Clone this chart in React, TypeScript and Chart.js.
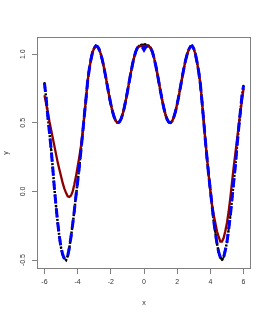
import { useEffect, useRef } from "react";
import { Chart, registerables } from "chart.js";

Chart.register(...registerables);

// x grid of the sampled points (-6 .. 6, step 0.1)
const xValues: number[] = Array.from({ length: 121 }, (_, i) => Math.round((-6 + i * 0.1) * 10) / 10);

// observed data (black points)
const observedY: number[] = [
  0.79, 0.68, 0.55, 0.43, 0.31, 0.17, 0.02, -0.11, -0.23, -0.33,
  -0.41, -0.46, -0.49, -0.5, -0.47, -0.41, -0.33, -0.24, -0.14, -0.03,
  0.07, 0.18, 0.3, 0.42, 0.55, 0.67, 0.8, 0.89, 0.96, 1.015,
  1.045, 1.06, 1.055, 1.034, 0.999, 0.952, 0.894, 0.83, 0.763, 0.697,
  0.636, 0.583, 0.542, 0.513, 0.501, 0.504, 0.523, 0.557, 0.605, 0.662,
  0.726, 0.793, 0.86, 0.922, 0.976, 1.018, 1.046, 1.06, 1.065, 1.07,
  1.07,
  1.07, 1.065, 1.06, 1.046, 1.018, 0.976, 0.922, 0.86, 0.793, 0.726,
  0.662, 0.605, 0.557, 0.523, 0.504, 0.501, 0.513, 0.542, 0.583, 0.636,
  0.697, 0.763, 0.83, 0.894, 0.952, 0.999, 1.034, 1.055, 1.06, 1.04,
  1.0, 0.94, 0.87, 0.78, 0.65, 0.51, 0.37, 0.24, 0.12, 0.01,
  -0.1, -0.21, -0.3, -0.38, -0.44, -0.48, -0.5, -0.48, -0.43, -0.37,
  -0.28, -0.18, -0.06, 0.06, 0.18, 0.32, 0.45, 0.57, 0.69, 0.77,
];

// smooth fit (dark red solid line)
const smoothFitY: number[] = [
  0.7, 0.64, 0.58, 0.51, 0.45, 0.39, 0.33, 0.27, 0.21, 0.16,
  0.11, 0.06, 0.02, -0.01, -0.035, -0.04, -0.03, 0.0, 0.05, 0.11,
  0.18, 0.25, 0.33, 0.43, 0.55, 0.67, 0.8, 0.89, 0.96, 1.015,
  1.045, 1.06, 1.055, 1.034, 0.999, 0.952, 0.894, 0.83, 0.763, 0.697,
  0.636, 0.583, 0.542, 0.513, 0.501, 0.504, 0.523, 0.557, 0.605, 0.662,
  0.726, 0.793, 0.86, 0.922, 0.976, 1.018, 1.046, 1.055, 1.06, 1.06,
  1.06,
  1.06, 1.06, 1.055, 1.046, 1.018, 0.976, 0.922, 0.86, 0.793, 0.726,
  0.662, 0.605, 0.557, 0.523, 0.504, 0.501, 0.513, 0.542, 0.583, 0.636,
  0.697, 0.763, 0.83, 0.894, 0.952, 0.999, 1.034, 1.055, 1.06, 1.04,
  1.0, 0.94, 0.87, 0.78, 0.65, 0.51, 0.37, 0.24, 0.12, 0.0,
  -0.1, -0.17, -0.23, -0.29, -0.33, -0.365, -0.365, -0.34, -0.29, -0.23,
  -0.15, -0.05, 0.06, 0.17, 0.27, 0.37, 0.47, 0.57, 0.66, 0.75,
];

// flexible fit (blue dashed line)
const flexibleFitY: number[] = [
  0.79, 0.68, 0.55, 0.43, 0.31, 0.17, 0.02, -0.11, -0.23, -0.33,
  -0.41, -0.46, -0.49, -0.49, -0.47, -0.41, -0.33, -0.24, -0.14, -0.03,
  0.07, 0.18, 0.3, 0.42, 0.55, 0.67, 0.8, 0.89, 0.96, 1.015,
  1.045, 1.06, 1.055, 1.034, 0.999, 0.952, 0.894, 0.83, 0.763, 0.697,
  0.636, 0.583, 0.542, 0.513, 0.501, 0.504, 0.523, 0.557, 0.605, 0.662,
  0.726, 0.793, 0.86, 0.922, 0.976, 1.018, 1.046, 1.06, 1.06, 1.05,
  1.03,
  1.05, 1.06, 1.06, 1.046, 1.018, 0.976, 0.922, 0.86, 0.793, 0.726,
  0.662, 0.605, 0.557, 0.523, 0.504, 0.501, 0.513, 0.542, 0.583, 0.636,
  0.697, 0.763, 0.83, 0.894, 0.952, 0.999, 1.034, 1.055, 1.06, 1.04,
  1.0, 0.94, 0.87, 0.78, 0.65, 0.51, 0.37, 0.24, 0.12, 0.01,
  -0.1, -0.21, -0.3, -0.38, -0.44, -0.48, -0.49, -0.48, -0.43, -0.37,
  -0.28, -0.18, -0.06, 0.06, 0.18, 0.32, 0.45, 0.57, 0.69, 0.77,
];

const xTicks = [-6, -4, -2, 0, 2, 4, 6];
const yTicks = [-0.5, 0, 0.5, 1];
const xTitle = "x";
const yTitle = "y";

const toPoints = (ys: number[]) => xValues.map((x, i) => ({ x, y: ys[i] }));

const boxPlugin = {
  id: "plotBox",
  beforeDatasetsDraw(chart: any) {
    const { ctx, chartArea } = chart;
    const { left, top, right, bottom } = chartArea;
    ctx.save();
    ctx.strokeStyle = "#808080";
    ctx.lineWidth = 1;
    ctx.strokeRect(Math.round(left) + 0.5, Math.round(top) + 0.5, Math.round(right - left) - 1, Math.round(bottom - top) - 1);
    ctx.restore();
  },
};

export default function App() {
  const canvasRef = useRef<HTMLCanvasElement | null>(null);

  useEffect(() => {
    if (!canvasRef.current) return;
    const font = { family: "'Liberation Sans', Arial, sans-serif", size: 7 };
    const chart = new Chart(canvasRef.current, {
      type: "scatter",
      data: {
        datasets: [
          {
            label: "flexible fit",
            data: toPoints(flexibleFitY),
            showLine: true,
            borderColor: "#0000ff",
            borderWidth: 3,
            borderDash: [9, 5],
            borderCapStyle: "butt",
            pointRadius: 0,
            fill: false,
            order: 0,
          },
          {
            label: "smooth fit",
            data: toPoints(smoothFitY),
            showLine: true,
            borderColor: "#8b0000",
            borderWidth: 2.3,
            pointRadius: 0,
            fill: false,
            order: 1,
          },
          {
            label: "observed",
            data: toPoints(observedY),
            showLine: true,
            borderColor: "#000000",
            borderWidth: 2.5,
            borderDash: [2, 1.5],
            pointRadius: 1.1,
            pointBackgroundColor: "#000000",
            pointBorderWidth: 0,
            fill: false,
            order: 2,
          },
        ],
      },
      options: {
        animation: false,
        responsive: true,
        maintainAspectRatio: false,
        layout: { padding: { top: 37, right: 19, left: 0, bottom: 0 } },
        plugins: { legend: { display: false }, tooltip: { enabled: false } },
        scales: {
          x: {
            type: "linear",
            min: -6.45,
            max: 6.45,
            afterBuildTicks: (scale: any) => {
              scale.ticks = xTicks.map((value) => ({ value }));
            },
            afterFit: (scale: any) => {
              scale.height = 46;
            },
            border: { display: false },
            grid: { display: true, drawOnChartArea: false, drawTicks: true, tickLength: 5, tickColor: "#808080" },
            ticks: { color: "#333333", font, padding: 4, maxRotation: 0, callback: (v: any) => String(v) },
            title: { display: true, text: xTitle, color: "#333333", font, padding: { top: 0, bottom: 8 } },
          },
          y: {
            type: "linear",
            min: -0.565,
            max: 1.125,
            afterBuildTicks: (scale: any) => {
              scale.ticks = yTicks.map((value) => ({ value }));
            },
            afterFit: (scale: any) => {
              scale.width = 37;
            },
            border: { display: false },
            grid: { display: true, drawOnChartArea: false, drawTicks: true, tickLength: 5, tickColor: "#808080" },
            ticks: {
              color: "#333333",
              font,
              padding: 3,
              minRotation: 90,
              maxRotation: 90,
              crossAlign: "center",
              callback: (v: any) => Number(v).toFixed(1),
            },
            title: { display: true, text: yTitle, color: "#333333", font, padding: { top: 2, bottom: 0 } },
          },
        },
      },
      plugins: [boxPlugin],
    } as any);
    return () => chart.destroy();
  }, []);

  return (
    <div style={{ position: "fixed", left: 0, top: 0, width: 270, height: 315, background: "#ffffff" }}>
      <canvas ref={canvasRef} />
    </div>
  );
}
